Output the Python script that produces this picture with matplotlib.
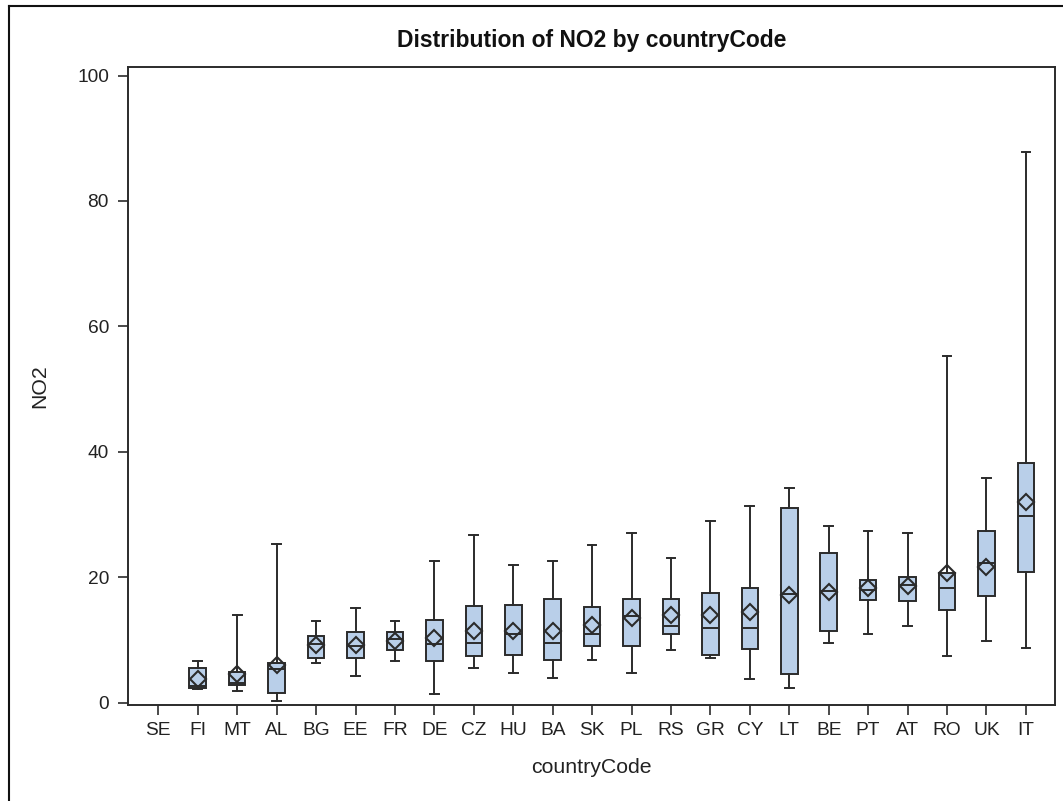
import numpy as np
import matplotlib.pyplot as plt
from matplotlib.lines import Line2D

plt.rcParams['font.family'] = ['Liberation Sans', 'DejaVu Sans']

# Summary statistics of NO2 per country (SE has no measurements)
countries = ['SE', 'FI', 'MT', 'AL', 'BG', 'EE', 'FR', 'DE', 'CZ', 'HU', 'BA', 'SK',
             'PL', 'RS', 'GR', 'CY', 'LT', 'BE', 'PT', 'AT', 'RO', 'UK', 'IT']
whisker_low = [np.nan, 2.2, 1.9, 0.3, 6.4, 4.2, 6.7, 1.3, 5.5, 4.8, 3.9, 6.8,
               4.8, 8.4, 7.1, 3.7, 2.4, 9.5, 10.9, 12.2, 7.4, 9.8, 8.7]
q1 = [np.nan, 2.3, 2.8, 1.5, 7.1, 7.1, 8.4, 6.6, 7.4, 7.6, 6.8, 9.0,
      9.0, 10.9, 7.6, 8.5, 4.5, 11.4, 16.4, 16.2, 14.8, 17.0, 20.9]
median = [np.nan, 2.6, 3.2, 5.4, 9.4, 9.0, 10.2, 9.3, 9.5, 11.0, 9.5, 10.9,
          13.8, 12.2, 11.9, 11.9, 17.3, 17.8, 18.0, 18.8, 18.3, 22.3, 29.7]
q3 = [np.nan, 5.6, 4.9, 6.4, 10.7, 11.2, 11.2, 13.2, 15.4, 15.6, 16.5, 15.2,
      16.5, 16.5, 17.5, 18.3, 31.0, 23.8, 19.6, 20.1, 20.7, 27.3, 38.2]
whisker_high = [np.nan, 6.7, 14.0, 25.3, 13.0, 15.1, 13.0, 22.6, 26.8, 22.0, 22.6, 25.2,
                27.0, 23.0, 28.9, 31.3, 34.2, 28.1, 27.3, 27.0, 55.3, 35.8, 87.8]
means = [np.nan, 3.8, 4.6, 6.0, 9.2, 9.2, 9.8, 10.3, 11.5, 11.5, 11.5, 12.4,
         13.5, 14.0, 14.0, 14.5, 17.2, 17.7, 18.3, 18.6, 20.6, 21.7, 32.0]

edge = '#2b2b2b'
fill = '#b9cfe9'
text_color = '#222222'

fig = plt.figure(figsize=(10.63, 8.01), dpi=100)
ax = fig.add_axes([0.1204, 0.1199, 0.8721, 0.7968])

stats, positions = [], []
for i, code in enumerate(countries):
    if np.isnan(median[i]):
        continue
    stats.append(dict(label=code, whislo=whisker_low[i], q1=q1[i], med=median[i],
                      q3=q3[i], whishi=whisker_high[i], mean=means[i], fliers=[]))
    positions.append(i)

ax.bxp(stats, positions=positions, widths=0.42, capwidths=0.22, patch_artist=True,
       showmeans=True, showfliers=False, manage_ticks=False,
       boxprops=dict(facecolor=fill, edgecolor=edge, linewidth=1.4),
       medianprops=dict(color=edge, linewidth=1.4),
       whiskerprops=dict(color=edge, linewidth=1.4),
       capprops=dict(color=edge, linewidth=1.4),
       meanprops=dict(marker='D', markerfacecolor='none', markeredgecolor=edge,
                      markeredgewidth=1.5, markersize=8.5))

ax.set_xlim(-0.77, 22.74)
ax.set_ylim(-0.37, 101.4)
ax.set_xticks(range(len(countries)))
ax.set_xticklabels(countries)
ax.set_yticks([0, 20, 40, 60, 80, 100])

for s in ax.spines.values():
    s.set_color(edge)
    s.set_linewidth(1.4)
ax.tick_params(direction='out', length=7.2, width=1.2, color=edge,
               labelsize=13.8, labelcolor=text_color)
ax.tick_params(axis='x', pad=5)
ax.tick_params(axis='y', pad=6.5)

ax.set_xlabel('countryCode', fontsize=15.3, color=text_color, labelpad=14)
ax.set_ylabel('NO2', fontsize=15.3, color=text_color, labelpad=20)

fig.text(0.5564, 1 - 41 / 801, 'Distribution of NO2 by countryCode',
         ha='center', va='center', fontsize=16.5, fontweight='bold', color='#111111')

# outer border on left and top edges
fig.add_artist(Line2D([9 / 1063, 9 / 1063], [0, 1 - 6 / 801], transform=fig.transFigure,
                      color='#111111', linewidth=1.5))
fig.add_artist(Line2D([9 / 1063, 1], [1 - 6 / 801, 1 - 6 / 801], transform=fig.transFigure,
                      color='#111111', linewidth=1.5))

fig.savefig('out.png', dpi=100)
